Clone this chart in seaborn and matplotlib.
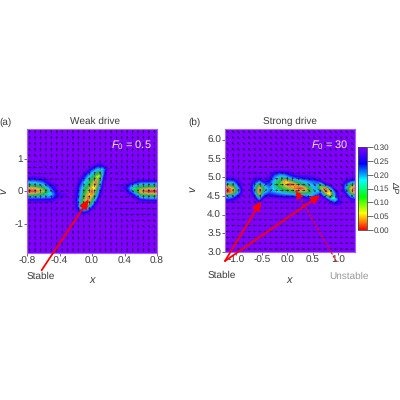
import numpy as np
import matplotlib
matplotlib.use("Agg")
import matplotlib.pyplot as plt
import seaborn as sns

sns.set_theme(style="ticks")
plt.rcParams["font.family"] = ["Liberation Sans", "DejaVu Sans"]
plt.rcParams["mathtext.fontset"] = "custom"
plt.rcParams["mathtext.it"] = "Liberation Sans:italic"
plt.rcParams["mathtext.rm"] = "Liberation Sans"
plt.rcParams["text.hinting"] = "no_hinting"
plt.rcParams["text.hinting_factor"] = 1

# Panel (a) heat values; rows run from top to bottom
xa = [-.8,-.7,-.6,-.5,-.4,-.25,-.2,-.15,-.1,-.05,0,.05,.1,.15,.2,.25,.4,.5,.6,.7,.8]
ya = [.9,.8,.7,.6,.5,.4,.3,.2,.1,0,-.1,-.2,-.3,-.4,-.5,-.6,-.7,-.8]
Za = [
 [.3,.3,.3,.3,.3, .3,.3,.3,.3,.3,.3,.3,.29,.3,.3,.3, .3,.3,.3,.3,.3],
 [.3,.3,.3,.3,.3, .3,.3,.3,.3,.3,.29,.26,.24,.28,.3,.3, .3,.3,.3,.3,.3],
 [.3,.3,.3,.3,.3, .3,.3,.3,.3,.29,.24,.2,.18,.2,.28,.3, .3,.3,.3,.3,.3],
 [.3,.3,.3,.3,.3, .3,.3,.3,.29,.24,.19,.16,.12,.21,.3,.3, .3,.3,.3,.3,.3],
 [.3,.3,.3,.3,.3, .3,.3,.3,.26,.2,.16,.1,.08,.23,.3,.3, .3,.3,.3,.3,.3],
 [.25,.25,.27,.3,.3, .3,.3,.28,.22,.17,.13,.07,.11,.26,.3,.3, .3,.3,.3,.3,.3],
 [.19,.19,.22,.29,.3, .3,.3,.25,.19,.15,.1,.03,.14,.28,.3,.3, .3,.28,.23,.23,.23],
 [.14,.14,.17,.26,.3, .3,.29,.23,.17,.13,.08,.03,.17,.29,.3,.3, .28,.2,.16,.15,.15],
 [.05,.06,.11,.22,.3, .3,.28,.21,.15,.1,.05,.07,.2,.3,.3,.3, .27,.15,.1,.08,.08],
 [.01,.02,.07,.19,.29, .3,.27,.2,.13,.08,.02,.1,.23,.3,.3,.3, .29,.18,.04,.01,.01],
 [.09,.1,.13,.18,.27, .3,.27,.19,.12,.05,.04,.13,.26,.3,.3,.3, .3,.25,.11,.09,.09],
 [.2,.2,.2,.21,.28, .3,.26,.18,.1,.03,.08,.17,.29,.3,.3,.3, .3,.29,.19,.17,.17],
 [.27,.27,.27,.27,.3, .3,.26,.17,.09,.03,.12,.22,.3,.3,.3,.3, .3,.3,.27,.26,.26],
 [.3,.3,.3,.3,.3, .3,.27,.17,.09,.06,.17,.27,.3,.3,.3,.3, .3,.3,.3,.3,.3],
 [.3,.3,.3,.3,.3, .3,.27,.18,.13,.15,.24,.3,.3,.3,.3,.3, .3,.3,.3,.3,.3],
 [.3,.3,.3,.3,.3, .3,.29,.23,.2,.22,.29,.3,.3,.3,.3,.3, .3,.3,.3,.3,.3],
 [.3,.3,.3,.3,.3, .3,.3,.28,.27,.29,.3,.3,.3,.3,.3,.3, .3,.3,.3,.3,.3],
 [.3,.3,.3,.3,.3, .3,.3,.3,.3,.3,.3,.3,.3,.3,.3,.3, .3,.3,.3,.3,.3],
]

# Panel (b) heat values
xb = [-1.25,-1.15,-1.05,-.95,-.85,-.75,-.65,-.55,-.45,-.35,-.25,-.15,-.05,.05,.15,.25,.35,.45,.55,.65,.75,.85,.95,1.05,1.15,1.25,1.35]
yb = [5.2,5.1,5.0,4.9,4.8,4.7,4.6,4.5,4.4,4.3,4.2]
Zb = [
 [.3,.3,.3,.3,.3,.3,.3,.3,.3,.3,.3,.3,.3,.3,.3,.3,.3,.3,.3,.3,.3,.3,.3,.3,.3,.3,.3],
 [.3,.3,.3,.3,.3,.3,.3,.3,.3,.29,.24,.22,.23,.26,.29,.3,.3,.3,.3,.3,.3,.3,.3,.3,.3,.3,.3],
 [.29,.28,.29,.3,.3,.3,.29,.28,.3,.27,.2,.16,.16,.2,.23,.25,.26,.27,.28,.3,.3,.3,.3,.3,.3,.29,.28],
 [.22,.21,.22,.27,.3,.3,.26,.21,.27,.24,.17,.13,.04,.09,.14,.17,.19,.21,.22,.26,.3,.3,.3,.3,.27,.23,.21],
 [.15,.11,.14,.24,.3,.3,.2,.11,.19,.22,.15,.1,.06,.01,.04,.1,.14,.18,.2,.12,.22,.29,.3,.3,.2,.11,.09],
 [.05,.02,.07,.19,.3,.3,.19,.04,.14,.2,.17,.13,.1,.08,.03,.01,.04,.13,.19,.08,.02,.17,.29,.3,.18,.05,.02],
 [.03,.01,.06,.18,.3,.3,.2,.02,.17,.21,.19,.17,.15,.13,.11,.09,.08,.12,.19,.2,.03,.06,.23,.3,.22,.07,.03],
 [.17,.14,.18,.25,.3,.3,.25,.09,.23,.25,.24,.23,.22,.22,.21,.2,.2,.18,.21,.28,.15,.06,.2,.3,.28,.17,.13],
 [.24,.23,.25,.29,.3,.3,.29,.2,.29,.3,.3,.29,.29,.29,.29,.29,.28,.27,.26,.3,.28,.18,.16,.28,.3,.26,.23],
 [.3,.3,.3,.3,.3,.3,.3,.28,.3,.3,.3,.3,.3,.3,.3,.3,.3,.3,.3,.3,.3,.28,.23,.27,.3,.3,.3],
 [.3,.3,.3,.3,.3,.3,.3,.3,.3,.3,.3,.3,.3,.3,.3,.3,.3,.3,.3,.3,.3,.3,.3,.3,.3,.3,.3],
]

# Arrow directions per grid cell (u,d,l,r,q=up-left,e=up-right,z=down-left,c=down-right; capitals are long)
arrows_a = [
 "uuuuuuuuuuuuuuuuuuuuuuuu",
 "uuuuuuuuuuuuuuuuuuuuuuuu",
 "uuuuuuuuuuuuuuuuuuuuuuuu",
 "quuuuuuuuuuuuuuuuuuuuuuu",
 "qquuuuuuuuuuuuuuuuuuuuuu",
 "LlqquuuuuuuuuueuuuuuuuuU",
 "lLlqquuuuuuuuueeuuuuuuuu",
 "qlLlLqquuuuuuuuecuuuuuuu",
 "qqlLlLquuuuuuuuurrcuuuuu",
 "uuqqLlquuuuuuuuurrcuuuuu",
 "uuuuqzlquuuuuuuuLlccuuuu",
 "rruuuzzquuuuuuuuqlLcuuuu",
 "rrrruzzquuuuuuuqqlLlLlLl",
 "uuuuueeuuuuuuuuqlLlLlLlL",
 "uuuuuuuuuuuuuuuuuqlLlLlq",
 "uuuuuuuuuuuuuuuuuuqqlqlq",
 "uuuuuuuuuuuuuuuuuuuuuqqq",
 "uuuuuuuuuuuuuuuuuuuuuuuu",
 "uuuuuuuuuuuuuuuuuuuuuuuu",
 "uuuuuuuuuuuuuuuuuuuuuuuu",
 "uuuuuuuuuuuuuuuuuuuuuuuu",
]
arrows_b = [
 "qqqqqqqqqqqqqqqqqqqqqqqq",
 "qqqqqqqqqqqqqqqqqqqqqqqq",
 "qqqqqqqqqqqqqqqqqqqqqqqq",
 "qqqqqqqqqqqqqqqqqqqqqqqq",
 "uuuuqqqqqqqqqqqqqqqqqqqq",
 "uuueeerrrqqqqqqqqqqqqqqq",
 "uuueeerrrrrrqqqqqqqqqqqq",
 "uuuurRrcrrrrrrrrrqqqcccu",
 "uuuqrRrccruuurrcccccccdd",
 "uuuqquueerrrrrrccccCcCdd",
 "uuuqquueerrrrrrcccCcCcdd",
 "qqqquuuellllllllzzzzddqq",
 "lllqqqullllllllllzzzzlll",
 "lllllqllllllllllllllllll",
 "llllllllllllllllllllllll",
 "llllllllllllllllllllllll",
 "llllllllllllllllllllllll",
 "llllllllllllllllllllllll",
 "llllllllllllllllllllllll",
 "llllllllllllllllllllllll",
 "llllllllllllllllllllllll",
]
dirs = {"u": (0, 1), "d": (0, -1), "l": (-1, 0), "r": (1, 0),
        "q": (-.7, .7), "e": (.7, .7), "z": (-.7, -.7), "c": (.7, -.7)}

# Red annotation arrows in data coordinates: (text-side point, tip)
stable_a = [((-.62, -2.43), (-.04, -.25))]
stable_b = [((-1.22, 2.76), (-.51, 4.36)), ((-1.22, 2.76), (.65, 4.52))]
unstable_b = [((.96, 2.76), (.16, 4.66))]

xlim_a, ylim_a = (-.8, .8), (-1.9, 1.92)
xlim_b, ylim_b = (-1.22, 1.33), (3.0, 6.28)
xticks_a = [-.8, -.4, 0, .4, .8]
yticks_a = [-1, 0, 1]
xticks_b = [-1, -.5, 0, .5, 1]
yticks_b = [3, 3.5, 4, 4.5, 5, 5.5, 6]
cbar_ticks = [0, .05, .10, .15, .20, .25, .30]

cmap = sns.blend_palette(["#ff0000", "#ffff00", "#00ff00", "#00ffff", "#0000ff", "#8000ff"], n_colors=256, as_cmap=True)
violet = "#8000ff"
txt = "#3a3a3a"
levels = np.linspace(0, .3, 41)

fig = plt.figure(figsize=(4, 4), dpi=100)
axa = fig.add_axes([27/400, 147/400, 130/400, 124/400])
axb = fig.add_axes([225/400, 148/400, 130/400, 123/400])
cax = fig.add_axes([358/400, 170/400, 9/400, 83/400])


def panel(ax, xs, ys, Z, arrows, xlim, ylim):
    ax.set_facecolor(violet)
    ax.contourf(xs, ys, np.array(Z), levels=levels, cmap=cmap, vmin=0, vmax=.3, extend="both", antialiased=True)
    rows, cols = len(arrows), len(arrows[0])
    gx = np.linspace(xlim[0], xlim[1], cols + 1)[:-1] + (xlim[1] - xlim[0]) / cols / 2
    gy = np.linspace(ylim[1], ylim[0], rows + 1)[:-1] - (ylim[1] - ylim[0]) / rows / 2
    U, V = np.zeros((rows, cols)), np.zeros((rows, cols))
    for i, row in enumerate(arrows):
        for j, c in enumerate(row):
            k = 4.6 if c.isupper() else 3.8
            U[i, j], V[i, j] = dirs[c.lower()][0] * k, dirs[c.lower()][1] * k
    ax.quiver(gx, gy, U, V, units="dots", angles="uv", scale=1, scale_units="dots", width=.55,
              headwidth=4, headlength=3.5, headaxislength=3.2, pivot="mid", color="#141420", zorder=3)
    ax.set_xlim(xlim)
    ax.set_ylim(ylim)
    for s in ax.spines.values():
        s.set_color("#a060ff")
        s.set_linewidth(.8)
    ax.tick_params(length=2, width=.6, pad=.8, labelsize=7, color="#555555", labelcolor=txt)


panel(axa, xa, ya, Za, arrows_a, xlim_a, ylim_a)
panel(axb, xb, yb, Zb, arrows_b, xlim_b, ylim_b)
axa.set_xticks(xticks_a, ["-0.8", "-0.4", "0.0", "0.4", "0.8"])
axa.set_yticks(yticks_a, ["-1", "0", "1"])
axb.set_xticks(xticks_b, ["-1.0", "-0.5", "0.0", "0.5", "1.0"])
axb.set_yticks(yticks_b, ["3.0", "3.5", "4.0", "4.5", "5.0", "5.5", "6.0"])


def red(ax, segs, style, lw):
    for a, b in segs:
        ax.annotate("", xy=b, xytext=a, annotation_clip=False, zorder=5,
                    arrowprops=dict(arrowstyle="-|>,head_length=.45,head_width=.2", color="#ff0000",
                                    lw=lw, ls=style, shrinkA=0, shrinkB=0))


red(axa, stable_a, "-", 1.3)
red(axb, stable_b, "-", 1.3)
red(axb, unstable_b, (0, (1.2, 2)), .9)

def ftext(px, py, s, **kw):
    kw.setdefault("fontsize", 7)
    kw.setdefault("color", txt)
    fig.text(px/400, 1 - py/400, s, ha="center", va="center", **kw)

ftext(5, 122, "(a)")
ftext(194, 122, "(b)")
ftext(95, 121, "Weak drive")
ftext(290, 121, "Strong drive")
ftext(131, 145, r"$\mathit{F}_0$ = 0.5", color="#f0e8ff", fontsize=8)
ftext(330, 145, r"$\mathit{F}_0$ = 30", color="#f0e8ff", fontsize=8)
ftext(41, 276, "Stable")
ftext(222, 275, "Stable")
ftext(349, 276, "Unstable", color="#999999")
ftext(92, 280, "x", style="italic", fontsize=8)
ftext(289, 280, "x", style="italic", fontsize=8)
ftext(4, 191, "v", style="italic", rotation=90, fontsize=8)
ftext(193, 189, "v", style="italic", rotation=90, fontsize=8)
ftext(394.5, 187, "ΔP", style="italic", rotation=270, fontsize=6.5)

sm = plt.cm.ScalarMappable(norm=plt.Normalize(0, .3), cmap=cmap)
cb = fig.colorbar(sm, cax=cax)
cb.set_ticks(cbar_ticks, labels=[f"{t:.2f}" for t in cbar_ticks])
cax.tick_params(length=4, width=.6, pad=1, labelsize=5.8, color="#555555", labelcolor=txt)
cb.outline.set_edgecolor("#444444")
cb.outline.set_linewidth(.6)

fig.savefig("out.png", dpi=100)
